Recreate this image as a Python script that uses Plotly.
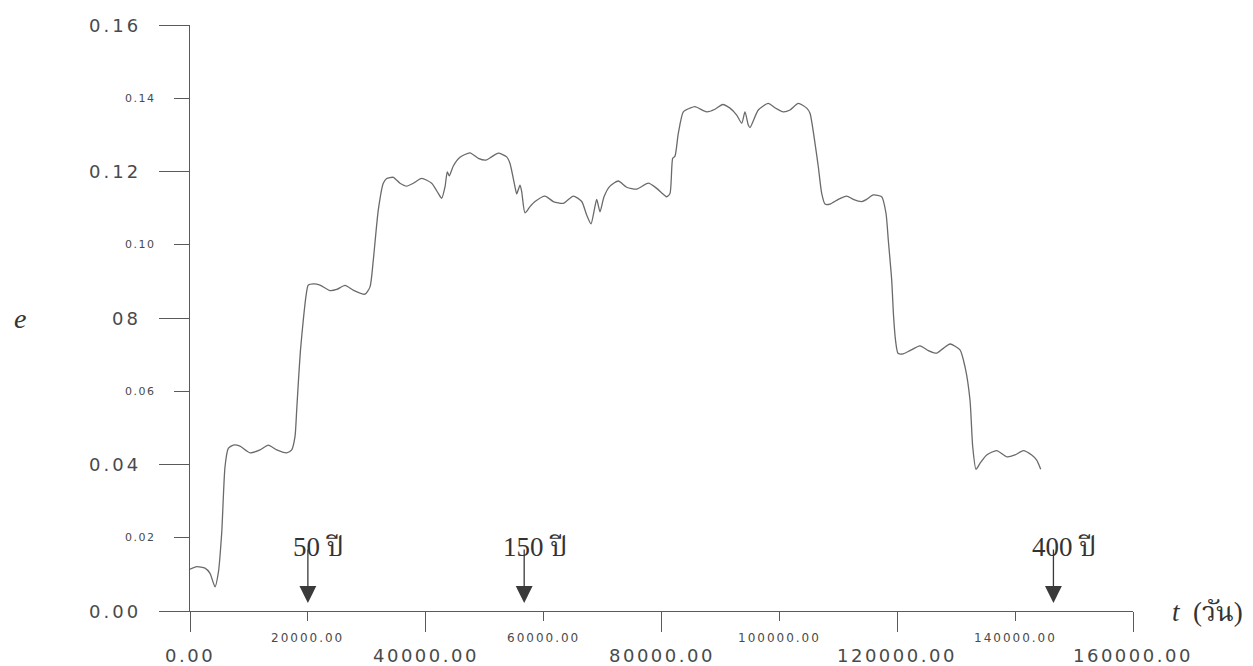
import plotly.graph_objects as go

# Eccentricity e versus time t (days)
t_days = [0, 1140, 2545, 3393, 4242, 4802, 5379, 5938, 6498, 7347, 8484, 10180,
          11877, 13285, 14710, 16407, 17255, 17815, 18104, 18409, 18748, 19224,
          19682, 20072, 20920, 22057, 23754, 24891, 26299, 27708, 29692, 30541,
          31101, 31949, 32797, 33374, 34494, 35631, 36768, 37886, 39311, 41008,
          42129, 42705, 43266, 43656, 43995, 44674, 45811, 47508, 48916, 50222,
          51190, 52309, 53734, 54294, 55143, 55431, 55991, 56280, 56839, 57688,
          58536, 60233, 61641, 63338, 65035, 66460, 67308, 68038, 68598, 69005,
          69565, 70244, 71261, 72670, 74095, 75792, 77760, 79185, 80882, 81442,
          81900, 82290, 82850, 83699, 84836, 85684, 87670, 89077, 90384, 91622,
          92759, 93607, 94167, 94727, 95015, 96424, 98120, 99257, 100665, 101802,
          103210, 104636, 105195, 106044, 106604, 107181, 107741, 108589, 109997,
          111422, 112542, 113967, 114815, 115935, 117360, 118090, 118480, 119057,
          119362, 119701, 120126, 120974, 122162, 123859, 125267, 126692, 127812,
          128949, 130646, 131494, 132343, 132801, 133361, 134039, 135176, 136873,
          138570, 139978, 141386, 142812, 143660, 144339]
e_vals = [0.0114, 0.0121, 0.0117, 0.0103, 0.0066, 0.0104, 0.0213, 0.0394, 0.0444,
          0.0453, 0.0450, 0.0432, 0.0440, 0.0453, 0.0440, 0.0432, 0.0440, 0.0476,
          0.0549, 0.0631, 0.0713, 0.0795, 0.0860, 0.0890, 0.0893, 0.0890, 0.0875,
          0.0878, 0.0889, 0.0876, 0.0865, 0.0885, 0.0958, 0.1095, 0.1168, 0.1181,
          0.1184, 0.1168, 0.1160, 0.1168, 0.1181, 0.1168, 0.1140, 0.1127, 0.1158,
          0.1199, 0.1188, 0.1215, 0.1239, 0.1251, 0.1236, 0.1231, 0.1240, 0.1250,
          0.1240, 0.1222, 0.1158, 0.1139, 0.1163, 0.1145, 0.1087, 0.1104, 0.1118,
          0.1133, 0.1118, 0.1113, 0.1133, 0.1118, 0.1081, 0.1057, 0.1095, 0.1124,
          0.1090, 0.1131, 0.1160, 0.1174, 0.1157, 0.1152, 0.1168, 0.1154, 0.1131,
          0.1140, 0.1236, 0.1242, 0.1304, 0.1363, 0.1373, 0.1377, 0.1363, 0.1370,
          0.1383, 0.1373, 0.1354, 0.1332, 0.1363, 0.1327, 0.1320, 0.1368, 0.1386,
          0.1374, 0.1363, 0.1368, 0.1386, 0.1373, 0.1359, 0.1277, 0.1213, 0.1140,
          0.1111, 0.1111, 0.1124, 0.1133, 0.1124, 0.1118, 0.1124, 0.1136, 0.1131,
          0.1086, 0.1013, 0.0904, 0.0808, 0.0740, 0.0704, 0.0702, 0.0711, 0.0724,
          0.0711, 0.0704, 0.0717, 0.0729, 0.0713, 0.0667, 0.0576, 0.0449, 0.0387,
          0.0403, 0.0426, 0.0438, 0.0421, 0.0426, 0.0438, 0.0426, 0.0412, 0.0387]

x_tick_vals = [0, 20000, 40000, 60000, 80000, 100000, 120000, 140000, 160000]
x_tick_text = ["0.00", "20000.00", "40000.00", "60000.00", "80000.00",
               "100000.00", "120000.00", "140000.00", "160000.00"]
y_tick_vals = [0.00, 0.02, 0.04, 0.06, 0.08, 0.10, 0.12, 0.14, 0.16]
y_tick_text = ["0.00", "0.02", "0.04", "0.06", "08", "0.10", "0.12", "0.14", "0.16"]

# time markers (years)
marker_t = [20000, 56700, 146500]
marker_text = ["50 ปี", "150 ปี", "400 ปี"]

AXIS = "#5a5a5a"
TEXT = "#4a4a4a"
SANS = "DejaVu Sans"
SERIF = "Liberation Serif, Noto Serif Thai, Noto Sans Thai, serif"

fig = go.Figure()
fig.add_trace(go.Scatter(
    x=t_days, y=e_vals, mode="lines",
    line=dict(color="#6a6a6a", width=1.3, shape="spline", smoothing=0.6),
    showlegend=False, hoverinfo="skip",
))

annotations = []
# x tick labels: alternating large / small
for i, (v, s) in enumerate(zip(x_tick_vals, x_tick_text)):
    big = i % 2 == 0
    annotations.append(dict(
        x=v, y=0, xref="x", yref="paper", xanchor="center", yanchor="middle",
        yshift=-44 if big else -27, showarrow=False,
        text=f'<span style="letter-spacing:{2.5 if big else 2}px">{s}</span>',
        font=dict(family=SANS, size=18 if big else 12, color=TEXT),
    ))
# y tick labels: alternating large / small
for i, (v, s) in enumerate(zip(y_tick_vals, y_tick_text)):
    big = i % 2 == 0
    annotations.append(dict(
        x=0, y=v, xref="paper", yref="y", xanchor="right", yanchor="middle",
        xshift=-47 if big else -32, showarrow=False,
        text=f'<span style="letter-spacing:{3 if big else 1.5}px">{s}</span>',
        font=dict(family=SANS, size=18 if big else 11, color=TEXT),
    ))

# arrows marking elapsed years
for v, s in zip(marker_t, marker_text):
    annotations.append(dict(
        x=v, y=0.0022, xref="x", yref="y", ax=v, ay=0.0172, axref="x", ayref="y",
        text="", showarrow=True, arrowhead=2, arrowsize=2.6, arrowwidth=1.3,
        arrowcolor="#3a3a3a",
    ))
    annotations.append(dict(
        x=v, y=0.0176, xref="x", yref="y", xanchor="center", yanchor="middle",
        xshift=11, showarrow=False, text=s,
        font=dict(family=SERIF, size=27, color="#333333"),
    ))

# axis titles
annotations.append(dict(
    x=0, y=0.08, xref="paper", yref="y", xanchor="center", yanchor="middle",
    xshift=-170, showarrow=False, text="<i>e</i>",
    font=dict(family=SERIF, size=28, color="#333333"),
))
annotations.append(dict(
    x=1, y=0, xref="paper", yref="paper", xanchor="left", yanchor="middle",
    xshift=37, yshift=-1, showarrow=False, text="<i>t</i>  (วัน)",
    font=dict(family=SERIF, size=27, color="#333333"),
))

fig.update_layout(
    width=1253, height=666,
    margin=dict(l=190, r=120, t=25, b=55),
    paper_bgcolor="white", plot_bgcolor="white",
    annotations=annotations,
    xaxis=dict(
        range=[0, 160000], showgrid=False, zeroline=False,
        showline=True, linecolor=AXIS, linewidth=1.2,
        ticks="outside", tick0=0, dtick=40000, ticklen=20, tickwidth=1.2,
        tickcolor=AXIS, showticklabels=False,
        minor=dict(ticks="outside", dtick=20000, tick0=0, ticklen=9,
                   tickwidth=1.2, tickcolor=AXIS, showgrid=False),
    ),
    yaxis=dict(
        range=[0, 0.16], showgrid=False, zeroline=False,
        showline=True, linecolor=AXIS, linewidth=1.2,
        ticks="outside", tick0=0, dtick=0.04, ticklen=30, tickwidth=1.2,
        tickcolor=AXIS, showticklabels=False,
        minor=dict(ticks="outside", dtick=0.02, tick0=0, ticklen=15,
                   tickwidth=1.2, tickcolor=AXIS, showgrid=False),
    ),
)

fig.write_html("out.html")
